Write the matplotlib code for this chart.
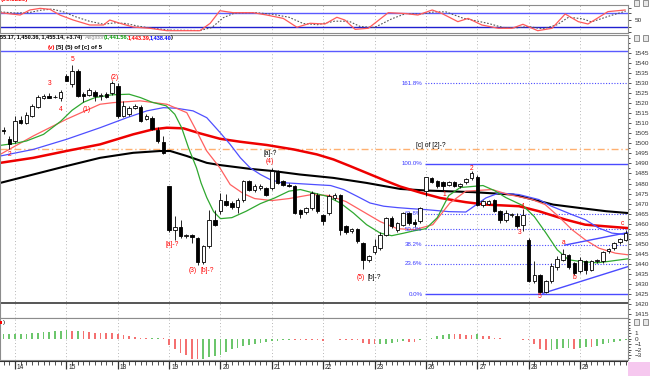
import numpy as np
import matplotlib.pyplot as plt
from matplotlib.patches import Rectangle
from matplotlib.ticker import MultipleLocator

plt.rcParams['font.family'] = ['Liberation Sans', 'DejaVu Sans']

W, H = 650, 376

# sessions: 9 bars per day, first bar index of each day
day_labels = ['14', '15', '18', '19', '20', '21', '22', '23', '26', '27', '28', '29']
day_start = [2, 11, 20, 29, 38, 47, 56, 65, 74, 83, 92, 101]

opens = [1506.5, 1502, 1501.2, 1511.7, 1510, 1513.7, 1518.3, 1522.8, 1523.7, 1523, 1522.5,
         1533.7, 1529.5, 1536.2, 1524.8, 1524.2, 1525.8, 1523.7, 1524.5, 1525.3,
         1528.7, 1513.7, 1514.5, 1517.5, 1518.3, 1512.3, 1512.8, 1506.5, 1500.8,
         1478.7, 1456.7, 1458.2, 1454, 1454.5, 1452.8, 1440.7, 1448.7, 1462,
         1466.2, 1471.2, 1470.3, 1468.3, 1472, 1481.2, 1477, 1478, 1477.8,
         1477.8, 1485.8, 1481.2, 1479.5, 1478.7, 1466.7, 1465.7, 1467.8, 1474.5,
         1464.5, 1465.3, 1472.8, 1474.5, 1458.7, 1456.2, 1457.3, 1450.3, 1441.7,
         1445.7, 1447.8, 1454.5, 1462.8, 1457, 1459.5, 1465.3, 1461, 1461.2,
         1476.2, 1482.8, 1481.2, 1481, 1479.5, 1481, 1478.7, 1480.8, 1482.8,
         1483.2, 1469.5, 1470, 1471.7, 1466.2, 1461.7, 1464.5, 1464, 1459.5,
         1452, 1431.2, 1434.5, 1426.2, 1431.2, 1438.3, 1442, 1444.5, 1440.3,
         1436.2, 1441.2, 1437, 1441.5, 1441.2, 1446.2, 1447.8, 1450.7, 1452]
highs = [1508, 1503.7, 1513.7, 1513.7, 1515.5, 1519.5, 1524.2, 1524.5, 1525, 1524, 1526.5,
         1534.5, 1539.2, 1537, 1525.5, 1527.8, 1526.5, 1525, 1525.5, 1531,
         1530, 1521, 1518.5, 1519.8, 1519, 1514.5, 1513.7, 1508, 1503.7,
         1479, 1463.7, 1461.7, 1455, 1455, 1453.5, 1449.5, 1466.7, 1467,
         1475.5, 1475, 1471.5, 1473, 1482, 1482, 1479.8, 1480, 1478.5,
         1487.8, 1486.5, 1482, 1480.5, 1479.5, 1467.5, 1468.5, 1476.2, 1475.5,
         1465, 1475, 1475.5, 1475, 1459.5, 1458, 1458, 1451, 1444.5,
         1452.3, 1456, 1463.5, 1464, 1461, 1466, 1466, 1462.5, 1468.5,
         1483.5, 1483.3, 1481.8, 1481.5, 1481.5, 1481.5, 1480.5, 1483, 1486.2,
         1484, 1472, 1472, 1472.5, 1467, 1466.7, 1465.5, 1465.3, 1467.3,
         1453, 1441.2, 1435, 1432, 1440.3, 1443.7, 1447.3, 1445, 1441,
         1443.3, 1442, 1442, 1442.5, 1446.5, 1448, 1451, 1453, 1457]
lows = [1504.5, 1497, 1500.3, 1509.5, 1509.5, 1513, 1517.5, 1522, 1522.5, 1522.5, 1521.2,
        1531, 1528, 1523, 1520.5, 1523.5, 1521, 1521.5, 1522.5, 1524,
        1512.5, 1513, 1513.5, 1517, 1510.5, 1511.5, 1506.5, 1500.3, 1494.5,
        1456, 1452, 1453, 1453, 1450.5, 1439.5, 1440, 1447.8, 1459,
        1465, 1469, 1467.5, 1465.3, 1471, 1476.5, 1476, 1477, 1474,
        1477, 1480, 1479, 1478.5, 1465, 1462.8, 1465, 1467, 1465.5,
        1459.5, 1464.5, 1472, 1454.5, 1455, 1455.3, 1450.5, 1437.3, 1441,
        1445, 1447, 1454, 1458, 1456, 1459, 1459.5, 1458.5, 1460.5,
        1474, 1480.5, 1478, 1477, 1479, 1478.5, 1478, 1480, 1482,
        1469, 1468.5, 1469.5, 1466, 1460.5, 1461, 1463.5, 1458, 1456.2,
        1431, 1430.5, 1425.3, 1425.5, 1430.5, 1437, 1441.5, 1437.5, 1434.5,
        1435.5, 1435, 1436.5, 1440.5, 1440.5, 1445.5, 1447, 1450, 1451.5]
closes = [1506, 1499.5, 1511.2, 1510, 1514, 1518.7, 1523.2, 1523.7, 1522.8, 1523.2, 1525.8,
          1531.2, 1536.2, 1523.7, 1523.7, 1526.5, 1523.7, 1523.8, 1523, 1530.3,
          1513.7, 1518.7, 1517.8, 1518.7, 1511.2, 1513.7, 1507, 1501.2, 1495,
          1456.7, 1458.2, 1453.7, 1454.3, 1453.3, 1440.8, 1448.7, 1462, 1459.5,
          1472, 1469.5, 1468.3, 1472, 1481.2, 1477, 1479, 1478.8, 1474.5,
          1486.2, 1480.3, 1479.5, 1479, 1465.3, 1465, 1467.8, 1475.3, 1466.2,
          1461.2, 1473.7, 1474.5, 1457, 1455.7, 1457.3, 1451.2, 1442, 1443.7,
          1448.7, 1454.5, 1462.8, 1458.7, 1460.3, 1465.3, 1460.3, 1460, 1467.8,
          1483.2, 1480.8, 1478.7, 1478.7, 1481, 1479, 1480, 1482.5, 1485.3,
          1469.5, 1471.2, 1471.5, 1466.2, 1462, 1465.3, 1464.6, 1458.7, 1464.5,
          1431.2, 1434.5, 1426.2, 1431.2, 1439, 1442.3, 1445, 1438.3, 1435.3,
          1442, 1437, 1441.2, 1441.8, 1445.7, 1447.3, 1450.3, 1452.3, 1455.3]

# moving average / alligator lines, read at bar positions
lips_k = [-0.6, 2, 4, 7, 10, 12, 14, 16, 19, 22, 24, 26, 28.5, 30, 31.2, 32.4, 33.8, 34.6, 35.6,
          36.8, 38, 40, 42.5, 45, 47.5, 50, 52, 54.3, 56.6, 59, 61.3, 63.6, 66, 68, 70, 72,
          74, 76, 78, 80, 84, 86, 88, 91, 93, 95, 97, 99, 101, 104, 106, 109.4]
lips_v = [1499, 1500, 1501.2, 1504.5, 1511, 1516.5, 1520.5, 1522.8, 1524.2, 1524.5, 1522.8,
          1520.5, 1518.7, 1514.5, 1507.8, 1497.8, 1487.8, 1480.3, 1473, 1466, 1462.5, 1463,
          1466.2, 1470, 1472.8, 1476.2, 1477, 1475.3, 1473.7, 1470.3, 1465.3, 1459.5, 1455.3,
          1454, 1455.2, 1456.5, 1457.5, 1463, 1474, 1478, 1479, 1476.5, 1473, 1469, 1463.5,
          1455.5, 1447, 1442, 1441.2, 1440.5, 1441.2, 1442.5]
teeth_k = [-0.6, 5.2, 11, 16.9, 19.2, 23.9, 28.6, 32.1, 33.8, 35.6, 37.9, 39.7, 42, 44, 47,
           50, 54, 57, 60, 63, 66, 69, 72, 75.2, 78.2, 81, 85.6, 88.5, 92.6, 94.9, 97.2,
           99.6, 101.9, 104.3, 107.2, 109.4]
teeth_v = [1494.5, 1503.7, 1512, 1519.5, 1520.3, 1521.2, 1519.5, 1515.3, 1506.2, 1496.2,
           1487.8, 1479.5, 1475, 1472.5, 1471.5, 1472.5, 1474.5, 1474, 1471, 1466, 1461,
           1457.5, 1457, 1459.5, 1470.3, 1476.2, 1477, 1474.5, 1472, 1469.5, 1463.7, 1457,
           1452, 1447.8, 1445.3, 1444.5]
jaw_k = [-0.6, 5.2, 11, 16.9, 21.6, 25.1, 28, 30.3, 33.2, 35.6, 37.9, 39.7, 41.5, 43.2, 45,
         46.7, 48.5, 51.4, 54.3, 57.3, 59.6, 61.9, 64.2, 66.6, 69, 71.3, 74, 78, 81, 84.5,
         86.8, 90.3, 93.8, 96, 99.6, 101.9, 104.3, 106.6, 109.4]
jaw_v = [1493.7, 1497, 1502, 1507.8, 1512.8, 1516.2, 1517.8, 1517.5, 1516.2, 1512.8, 1505.5,
         1499.5, 1492.8, 1487.8, 1484.5, 1482, 1480.5, 1480, 1479.5, 1479, 1477, 1473.7,
         1470.3, 1468.7, 1468, 1467.5, 1467, 1466, 1465.8, 1472.8, 1475.3, 1474.5, 1472,
         1468.7, 1464.5, 1462, 1457.8, 1455.3, 1454.5]
ma_red_k = [-0.6, 5.2, 11, 16.9, 22.7, 26.2, 28.6, 31.5, 34.4, 37.9, 41.5, 46.1, 50.8, 54.9,
            57.8, 60.7, 63.6, 67.1, 69.5, 73, 76.5, 81, 84.5, 90.3, 93.8, 98.5, 101.9,
            105.4, 109.4]
ma_red_v = [1490.3, 1492.8, 1496.2, 1499.5, 1504.5, 1507, 1507.8, 1507.5, 1505, 1502.3,
            1500.8, 1499.2, 1497, 1494.5, 1492, 1488.7, 1485.3, 1481.2, 1478.5, 1475.5,
            1472.8, 1470.7, 1469.5, 1468.7, 1466.2, 1462, 1459.5, 1458.7, 1457.8]
ma_blk_k = [-0.6, 5.2, 11, 16.9, 22.7, 27.4, 29.2, 32.1, 35.6, 37.9, 43.2, 47.3, 51.9, 57.8,
            63.6, 69.5, 74.2, 82.3, 89.3, 92.8, 96.3, 101, 105.6, 109.4]
ma_blk_v = [1480.3, 1484.5, 1488.7, 1492.8, 1495.3, 1496.2, 1496.2, 1493.7, 1490.3, 1489.2,
            1487.3, 1486.2, 1484.5, 1482.8, 1480.3, 1477.3, 1476.5, 1475.7, 1474.5, 1472,
            1469.5, 1467.8, 1466.2, 1465.3]

# horizontal levels and trendlines
top_level = 1546.2
orange_level = 1497.3
dark_level = 1420.5
fib_labels = ['0.0%', '23.6%', '38.2%', '50.0%', '61.8%', '100.0%', '161.8%']
fib_levels = [1424.8, 1440.1, 1449.6, 1457.3, 1465.0, 1489.8, 1530.0]
tri_low_k, tri_low_v = [94.5, 109.4], [1425.3, 1438.6]
tri_up_k, tri_up_v = [98.3, 109.4], [1449.3, 1455.6]

# wave labels: bar, price, text, colour
wave_labels = [
    (12, 1542, '5', 'red'), (8, 1530, '3', 'red'), (10, 1517, '4', 'red'),
    (1, 1494.5, '2', 'red'), (14.5, 1517, '(1)', 'red'), (19.5, 1533, '(2)', 'red'),
    (29.6, 1449.8, '[a]-?', 'red'), (33.1, 1436.8, '(3)', 'red'), (35.6, 1436.8, '[b]-?', 'red'),
    (46.7, 1490.8, '(4)', 'red'), (46.8, 1495, '[a]-?', 'black'),
    (62.6, 1433.3, '(5)', 'red'), (64.9, 1433.3, '[b]-?', 'black'),
    (74.9, 1499, '[c] of [2]-?', 'black'),
    (77.2, 1474.5, '1', 'red'), (82, 1487.5, '2', 'red'), (90.4, 1455.7, '3', 'red'),
    (91, 1468.7, '4', 'red'), (94, 1423.7, '5', 'red'), (98.2, 1450.7, 'a', 'red'),
    (100.1, 1433.3, 'b', 'red'), (108.4, 1460.3, 'c', 'red'),
]

# stochastic
stoch_k = [-0.6, 2.9, 4.6, 6.4, 8.1, 9.9, 12.2, 15.1, 17.5, 18.6, 20.4, 22.7, 25.6, 28.6,
           34.4, 36.2, 37.9, 40.2, 43.7, 46.1, 49, 51.4, 53.7, 56.3, 58.4, 59.8, 61.6, 63.9,
           67.4, 70.3, 72.6, 75.1, 76.8, 79.6, 81.4, 83.8, 86.7, 89.1, 91, 93.6, 96.1, 98.4,
           100.7, 102.4, 105.9, 108.9]
stoch_v = [81.5, 71.5, 93, 100, 96, 71, 50, 28.7, 28.7, 50, 36, 20, 14.6, 4.3, 4.3, 36, 90,
           81.5, 81.5, 71.5, 57, 19, 36, 33, 61.7, 50, 10, 14.6, 81.5, 78, 71.5, 93, 78, 43,
           57, 28.7, 14.6, 14.6, 31.7, 4.3, 14.6, 76, 43, 33, 86, 93]
stoch_d_k = [-0.6, 2, 4.5, 6.5, 8.5, 10.5, 12.5, 15, 17.5, 19.5, 21.5, 23.5, 26, 29, 34.4,
             36.5, 38.5, 40.5, 44, 47, 50, 52.5, 55, 58, 60.5, 62.5, 65, 68, 70.5, 73, 75.5,
             77.5, 80.5, 82.5, 85, 87.5, 90, 92, 94.5, 97, 99, 101.5, 103, 106.5, 109]
stoch_d_v = [85, 80, 82, 92, 97, 85, 65, 45, 32, 38, 35, 24, 15, 7, 5, 18, 60, 80, 82, 75,
             62, 35, 30, 45, 45, 22, 18, 55, 78, 75, 85, 85, 58, 48, 35, 18, 17, 22, 12, 30,
             62, 55, 42, 70, 88]

# oscillator histogram, one value per bar
ao = [0.85, 0.85, 0.85, 0.85, 0.87, 0.97, 1.09, 1.2, 1.27, 1.4, 1.45,
      1.58, 1.45, 1.45, 1.33, 1.2, 1.09, 1.05, 0.97, 0.95,
      0.79, 0.6, 0.48, 0.36, 0.18, 0.06, 0.06, 0.1, 0.06,
      -1.15, -1.94, -2.67, -3.0, -3.6, -3.65, -3.6, -3.3, -3.15, -3.0,
      -2.4, -1.9, -1.6, -1.33, -1.15, -1.0, -0.85, -0.67, -0.48, -0.36, -0.24, -0.18,
      -0.2, -0.22, -0.25, -0.3, -0.32, -0.35,
      -0.1, -0.08, -0.15, -0.17, -0.2, -0.3,
      -0.7, -0.95, -1.0, -0.98, -0.9, -0.7, -0.6, -0.5, -0.55, -0.6, -0.3,
      -0.05, 0.2, 0.5, 0.7, 0.85, 0.84, 0.8, 0.75, 0.73, 0.78,
      0.5, 0.4, 0.2, 0.05, 0.0, -0.05, -0.1, -0.15, -0.2,
      -1.0, -1.9, -2.1, -2.0, -1.9, -1.75, -1.6, -1.8, -1.78, -1.5, -1.55, -1.3, -0.9,
      -0.8, -0.6, -0.4, -0.3]


def box(x0, y0, x1, y1):
    return [x0 / W, 1 - y1 / H, (x1 - x0) / W, (y1 - y0) / H]


def ftext(x, y, s, **kw):
    # text placed in screen pixels from the top-left corner
    return fig.text(x / W, 1 - y / H, s, va='center', **kw)


fig = plt.figure(figsize=(W / 100, H / 100), dpi=100)
ax_st = fig.add_axes(box(0, 5, 628, 33))
ax_m = fig.add_axes(box(0, 35, 628, 318))
ax_h = fig.add_axes(box(0, 318, 628, 360))
ax_d = fig.add_axes(box(0, 361, 628, 376))

xlim = (-0.63, 109.41)
for ax in (ax_st, ax_m, ax_h):
    ax.set_xlim(*xlim)
    ax.set_xticks([])
    ax.yaxis.tick_right()
    ax.tick_params(axis='y', direction='out', length=2, width=0.6, labelsize=4.6,
                   pad=3, colors='#333333')
    ax.tick_params(axis='y', which='minor', length=1.2, width=0.5)
    for s in ax.spines.values():
        s.set_color('#8c8c8c')
        s.set_linewidth(0.8)
    for k in day_start:
        ax.axvline(k, color='#a0a0a0', lw=0.6, ls=(0, (1, 3)), zorder=0)

# ---- main price panel
ax_m.set_ylim(1413, 1554)
ax_m.yaxis.set_minor_locator(MultipleLocator(2.5))
ax_m.set_yticks(range(1415, 1550, 5))

ax_m.axhline(top_level, color='#5a5aff', lw=1)
ax_m.axhline(orange_level, color='#ffb070', lw=1, ls=(0, (5, 2, 1, 2)))
ax_m.axhline(dark_level, color='#555555', lw=1.4)

fib_start = day_start[8] - 0.2
for lev, lab in zip(fib_levels, fib_labels):
    solid = lab in ('0.0%', '100.0%')
    ax_m.hlines(lev, fib_start, xlim[1], color='#4a4aff', lw=1 if solid else 0.8,
                ls='-' if solid else (0, (1, 1.5)), zorder=1)
    ax_m.text(fib_start - 0.4, lev, lab, color='#3a3aff', fontsize=4.4, ha='right',
              va='center')

ax_m.plot(ma_blk_k, ma_blk_v, color='black', lw=1.5, zorder=2)
ax_m.plot(ma_red_k, ma_red_v, color='#ee0000', lw=1.8, zorder=2)
ax_m.plot(jaw_k, jaw_v, color='#4f4fff', lw=0.9, zorder=2)
ax_m.plot(teeth_k, teeth_v, color='#ff6060', lw=0.9, zorder=2)
ax_m.plot(lips_k, lips_v, color='#2fa82f', lw=0.9, zorder=2)
ax_m.plot(tri_low_k, tri_low_v, color='#4a4aff', lw=1, zorder=2)
ax_m.plot(tri_up_k, tri_up_v, color='#4a4aff', lw=1, zorder=2)

o = np.array(opens)
c = np.array(closes)
hi = np.array(highs)
lo = np.array(lows)
idx = np.arange(len(o))
up = c >= o
ax_m.vlines(idx, lo, hi, color='black', lw=0.6, zorder=3)
body_lo = np.minimum(o, c)
body_h = np.maximum(np.abs(c - o), 0.35)
ax_m.bar(idx, body_h, bottom=body_lo, width=0.62,
         color=np.where(up, 'white', 'black'), edgecolor='black', lw=0.6, zorder=4)

for k, p, t, col in wave_labels:
    ax_m.text(k, p, t, color=col, fontsize=4.8, ha='center', va='center', zorder=5)

# ---- stochastic panel
ax_st.set_ylim(-5.6, 114.4)
ax_st.set_yticks([0, 20, 50, 80, 100])
ax_st.set_yticklabels(['', '', '50', '', ''])
ax_st.axhline(80, color='#5a5aff', lw=1)
ax_st.axhline(20, color='#2020d0', lw=1)
ax_st.plot(stoch_d_k, stoch_d_v, color='#555555', lw=0.8, ls=(0, (1.5, 1.5)))
ax_st.plot(stoch_k, stoch_v, color='#ff5a5a', lw=0.9)

# ---- oscillator histogram
ax_h.set_ylim(-3.87, 3.76)
ax_h.set_yticks([1, 0, -1, -2, -3])
ax_h.yaxis.set_minor_locator(MultipleLocator(0.5))
ao_arr = np.array(ao)
rising = np.r_[True, ao_arr[1:] >= ao_arr[:-1]]
ax_h.bar(idx, ao_arr, width=0.3, color=np.where(rising, '#6cc66c', '#f47070'), zorder=2)

# ---- date axis
ax_d.set_xlim(*xlim)
ax_d.set_ylim(0, 1)
ax_d.axis('off')
ax_d.axhline(1, color='#333333', lw=0.8)
ax_d.vlines(idx, 0.72, 1, color='#333333', lw=0.6)
ax_d.vlines(day_start, 0.45, 1, color='#333333', lw=0.9)
for k, lab in zip(day_start, day_labels):
    ax_d.text(k + 0.35, 0.55, lab, fontsize=4.8, ha='left', va='center', color='#222222')

# ---- headers and decorations
fig.patches.append(Rectangle((628 / W, 0), 22 / W, 14 / H, transform=fig.transFigure,
                             facecolor='#f6c8ef', edgecolor='none'))
ftext(1, -0.5, '(90.3220)', color='red', fontsize=4.6, fontweight='bold')
hdr = dict(fontsize=4.0, fontweight='bold')
ftext(0, 38, '55.17, 1,450.36, 1,455.14, +3.74)', **hdr)
ftext(85, 38, 'Alligator', fontsize=4.0, color='#999999')
ftext(104, 38, '(1,441.56,', color='#10a010', **hdr)
ftext(128, 38, '1,443.39,', color='red', **hdr)
ftext(150, 38, '1,438.40', color='blue', **hdr)
ftext(171, 38, ')', **hdr)
ftext(48, 47.5, '(v)', color='red', fontsize=4.4, fontweight='bold')
ftext(56, 47.5, '[5] (5) of [c] of 5', fontsize=4.4, fontweight='bold')
fig.patches.append(Rectangle((0, 1 - 324 / H), 2 / W, 3 / H, transform=fig.transFigure,
                             facecolor='red', edgecolor='none'))
ftext(3, 322.5, ')', fontsize=4.3)
for yy in (3, 38, 322):
    for xx in (634, 643):
        fig.patches.append(Rectangle((xx / W, 1 - (yy + 3) / H), 5 / W, 6 / H,
                                     transform=fig.transFigure, facecolor='#e8e8e8',
                                     edgecolor='#666666', lw=0.5))

fig.savefig('out.png', dpi=100)
